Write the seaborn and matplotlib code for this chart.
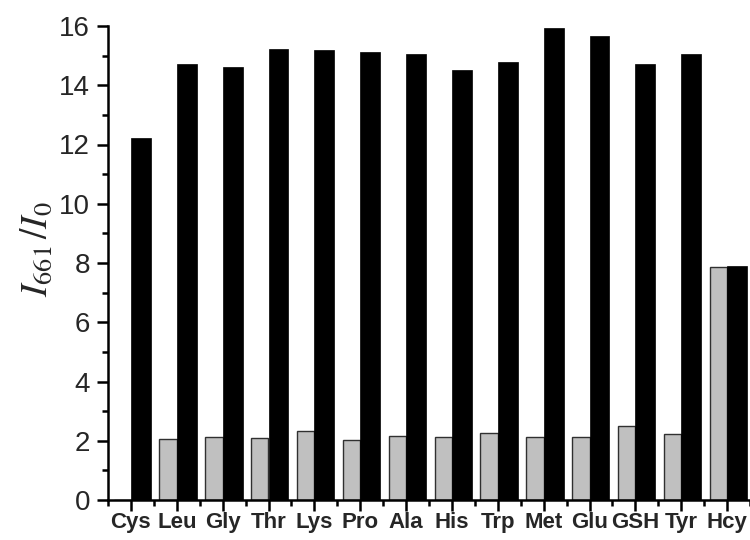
import numpy as np
import pandas as pd
import seaborn as sns
import matplotlib
matplotlib.use("Agg")
import matplotlib.pyplot as plt
from matplotlib.ticker import MultipleLocator, FixedLocator

# Fluorescence ratio I661/I0 for each analyte
analytes = ["Cys", "Leu", "Gly", "Thr", "Lys", "Pro", "Ala", "His", "Trp",
            "Met", "Glu", "GSH", "Tyr", "Hcy"]
analyte_alone = [0.0, 2.05, 2.11, 2.09, 2.32, 2.03, 2.15, 2.11, 2.27,
                 2.11, 2.14, 2.51, 2.23, 7.85]
analyte_plus_cys = [12.22, 14.73, 14.60, 15.21, 15.18, 15.11, 15.04, 14.50,
                    14.79, 15.92, 15.67, 14.72, 15.07, 7.90]
conditions = ["alone", "with Cys"]
bar_colors = ["#c0c0c0", "#000000"]

df = pd.DataFrame({
    "analyte": analytes * 2,
    "ratio": analyte_alone + analyte_plus_cys,
    "condition": [conditions[0]] * len(analytes) + [conditions[1]] * len(analytes),
})

sns.set_style("ticks")
plt.rcParams["font.family"] = ["Liberation Sans", "DejaVu Sans"]
plt.rcParams["mathtext.fontset"] = "stix"

fig = plt.figure(figsize=(7.5, 5.4), dpi=100)
ax = fig.add_axes([108 / 750, 1 - 500 / 540, 642 / 750, (500 - 26) / 540])

sns.barplot(data=df, x="analyte", y="ratio", hue="condition",
            hue_order=conditions, order=analytes, palette=bar_colors,
            width=0.87, gap=0, dodge=True, saturation=1, legend=False,
            errorbar=None, ax=ax)

# grey bars are slightly narrower, right-aligned against the black ones
grey_w = 0.38
for p in ax.containers[0]:
    right = p.get_x() + p.get_width()
    p.set_x(right - grey_w)
    p.set_width(grey_w)
    p.set_edgecolor("#303030")
    p.set_linewidth(1.0)
for p in ax.containers[1]:
    p.set_edgecolor("#000000")
    p.set_linewidth(0.5)

ax.set_xlim(-0.5, 13.5)
ax.set_ylim(0, 16)
ax.yaxis.set_major_locator(MultipleLocator(2))
ax.yaxis.set_minor_locator(MultipleLocator(1))
ax.xaxis.set_minor_locator(FixedLocator(np.arange(-0.5, 13.6, 1.0)))

for side in ("top", "right"):
    ax.spines[side].set_visible(False)
for side in ("left", "bottom"):
    ax.spines[side].set_linewidth(1.8)
    ax.spines[side].set_color("black")

ax.tick_params(axis="both", which="major", direction="out", length=8,
               width=1.8, color="black")
ax.tick_params(axis="both", which="minor", direction="out", length=4,
               width=1.8, color="black")
ax.tick_params(axis="y", labelsize=20, pad=5)
ax.tick_params(axis="x", labelsize=16, pad=0.5)
for lbl in ax.get_xticklabels():
    lbl.set_fontweight("bold")

ax.set_xlabel("")
ax.set_ylabel(r"$I_{661}\,/I_{0}$", fontsize=27)
ax.yaxis.set_label_coords(-0.083, 0.53)

fig.savefig("out.png", dpi=100)
